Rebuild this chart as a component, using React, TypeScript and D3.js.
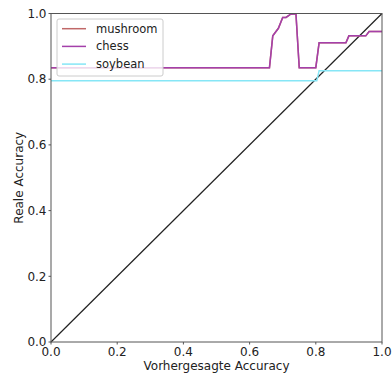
import { useEffect, useRef } from 'react'
import * as d3 from 'd3'

// x = predicted accuracy, y = real accuracy
const chessX = [0, 0.66, 0.67, 0.687, 0.70, 0.71, 0.724, 0.74, 0.75, 0.80, 0.81, 0.891, 0.90, 0.951, 0.961, 1.0]
const chessY = [0.835, 0.835, 0.932, 0.955, 0.988, 0.988, 0.998, 0.999, 0.835, 0.835, 0.911, 0.911, 0.932, 0.932, 0.945, 0.945]
const mushroomX = [0, 0.66, 0.67, 0.687, 0.70, 0.71, 0.724, 0.74, 0.75, 0.80, 0.81, 0.891, 0.90, 0.951, 0.961, 1.0]
const mushroomY = [0.835, 0.835, 0.932, 0.955, 0.988, 0.988, 0.998, 0.999, 0.835, 0.835, 0.911, 0.911, 0.932, 0.932, 0.945, 0.945]
const soybeanX = [0, 0.803, 0.81, 1.0]
const soybeanY = [0.795, 0.795, 0.826, 0.826]
const diagonal = [0, 1]
const ticks = [0, 0.2, 0.4, 0.6, 0.8, 1.0]

const series = [
  { name: 'mushroom', xs: mushroomX, ys: mushroomY, color: '#c06868' },
  { name: 'chess', xs: chessX, ys: chessY, color: '#a440aa' },
  { name: 'soybean', xs: soybeanX, ys: soybeanY, color: '#86e6f6' },
]

export default function App() {
  const svgRef = useRef<SVGSVGElement>(null)

  useEffect(() => {
    if (!svgRef.current) return
    const svg = d3.select(svgRef.current)
    svg.selectAll('*').remove()

    const left = 51
    const right = 382
    const top = 13.5
    const bottom = 342
    const font = 'DejaVu Sans, sans-serif'

    const x = d3.scaleLinear().domain([0, 1]).range([left, right])
    const y = d3.scaleLinear().domain([0, 1]).range([bottom, top])

    const plot = svg.append('g')

    // diagonal reference
    plot.append('path')
      .datum(diagonal)
      .attr('d', d3.line<number>().x((d) => x(d)).y((d) => y(d)))
      .attr('fill', 'none')
      .attr('stroke', '#222')
      .attr('stroke-width', 1.2)

    const line = d3.line<[number, number]>().x((d) => x(d[0])).y((d) => y(d[1]))
    series.forEach((s) => {
      const pts = s.xs.map((v, i) => [v, s.ys[i]] as [number, number])
      plot.append('path')
        .datum(pts)
        .attr('d', line)
        .attr('fill', 'none')
        .attr('stroke', s.color)
        .attr('stroke-width', 1.5)
    })

    // spines
    svg.append('rect')
      .attr('x', left)
      .attr('y', top)
      .attr('width', right - left)
      .attr('height', bottom - top)
      .attr('fill', 'none')
      .attr('stroke', '#555')
      .attr('stroke-width', 1)

    // x ticks
    const xt = svg.append('g')
    ticks.forEach((t) => {
      xt.append('line')
        .attr('x1', x(t)).attr('x2', x(t))
        .attr('y1', bottom).attr('y2', bottom + 2.5)
        .attr('stroke', '#555')
      xt.append('text')
        .attr('x', x(t))
        .attr('y', bottom + 14)
        .attr('text-anchor', 'middle')
        .attr('font-family', font)
        .attr('font-size', 12)
        .attr('fill', '#222')
        .text(t.toFixed(1))
    })

    // y ticks
    const yt = svg.append('g')
    ticks.forEach((t) => {
      yt.append('line')
        .attr('x1', left - 2.5).attr('x2', left)
        .attr('y1', y(t)).attr('y2', y(t))
        .attr('stroke', '#555')
      yt.append('text')
        .attr('x', left - 4.5)
        .attr('y', y(t))
        .attr('dy', '0.35em')
        .attr('text-anchor', 'end')
        .attr('font-family', font)
        .attr('font-size', 12)
        .attr('fill', '#222')
        .text(t.toFixed(1))
    })

    // axis labels
    svg.append('text')
      .attr('x', (left + right) / 2)
      .attr('y', 370)
      .attr('text-anchor', 'middle')
      .attr('font-family', font)
      .attr('font-size', 12)
      .attr('fill', '#222')
      .text('Vorhergesagte Accuracy')

    svg.append('text')
      .attr('transform', `translate(23,${(top + bottom) / 2}) rotate(-90)`)
      .attr('text-anchor', 'middle')
      .attr('font-family', font)
      .attr('font-size', 12)
      .attr('fill', '#222')
      .text('Reale Accuracy')

    // legend
    const lg = svg.append('g').attr('transform', 'translate(57,19)')
    lg.append('rect')
      .attr('width', 106)
      .attr('height', 57)
      .attr('rx', 2)
      .attr('fill', 'white')
      .attr('fill-opacity', 0.8)
      .attr('stroke', '#ccc')
    series.forEach((s, i) => {
      const cy = 9.7 + i * 17.7
      lg.append('line')
        .attr('x1', 5).attr('x2', 29)
        .attr('y1', cy).attr('y2', cy)
        .attr('stroke', s.color)
        .attr('stroke-width', 1.5)
      lg.append('text')
        .attr('x', 39)
        .attr('y', cy)
        .attr('dy', '0.35em')
        .attr('font-family', font)
        .attr('font-size', 11.5)
        .attr('fill', '#222')
        .text(s.name)
    })
  }, [])

  return (
    <svg
      ref={svgRef}
      width={392}
      height={376}
      style={{ position: 'absolute', left: 0, top: 0, display: 'block' }}
    ></svg>
  )
}
